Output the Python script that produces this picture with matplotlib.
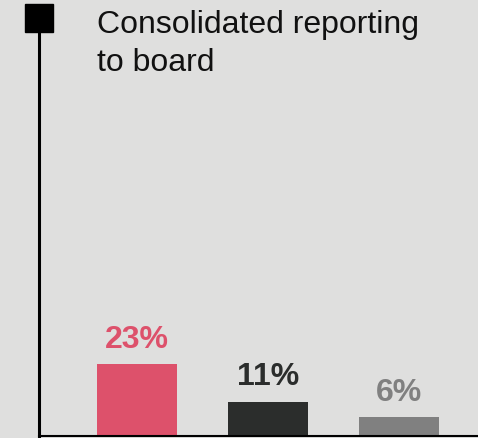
import matplotlib
matplotlib.use("Agg")
import matplotlib.pyplot as plt

# chart data
categories = ["A", "B", "C"]
values = [23, 11, 6]
bar_colors = ["#dd516b", "#2b2d2c", "#808080"]
title_lines = ["Consolidated reporting", "to board"]

plt.rcParams['font.family'] = ['Liberation Sans', 'DejaVu Sans']

W, H = 478, 439
bg = "#dfdfde"
fig = plt.figure(figsize=(W / 100, H / 100), dpi=100, facecolor=bg)

# axes: left spine at x=39px, baseline at y=437px, top at y=19px
ax = fig.add_axes([39 / W, (H - 437) / H, (W - 39) / W, (437 - 19) / H])
ax.set_facecolor(bg)

x = list(range(len(categories)))
ax.bar(x, values, width=0.605, color=bar_colors)
ax.set_xlim(-0.748, 2.603)
ax.set_ylim(0, 134)

for xi, v, c in zip(x, values, bar_colors):
    ax.annotate(f"{v}%", (xi, v), xytext=(0, 12.5), textcoords="offset points",
                ha="center", va="baseline", fontsize=23, fontweight="bold", color=c)

for s in ["top", "right"]:
    ax.spines[s].set_visible(False)
ax.spines["left"].set_linewidth(2.2)
ax.spines["bottom"].set_linewidth(1.5)
ax.set_xticks([])
ax.set_yticks([])

# square cap on the vertical line
ax.plot([0], [1], marker="s", markersize=19.5, color="black",
        transform=ax.transAxes, clip_on=False)

fig.text(97 / W, 1 - 33 / H, title_lines[0], fontsize=23, color="#111111", va="baseline")
fig.text(97 / W, 1 - 71 / H, title_lines[1], fontsize=23, color="#111111", va="baseline")

fig.savefig("out.png", dpi=100, facecolor=bg)
